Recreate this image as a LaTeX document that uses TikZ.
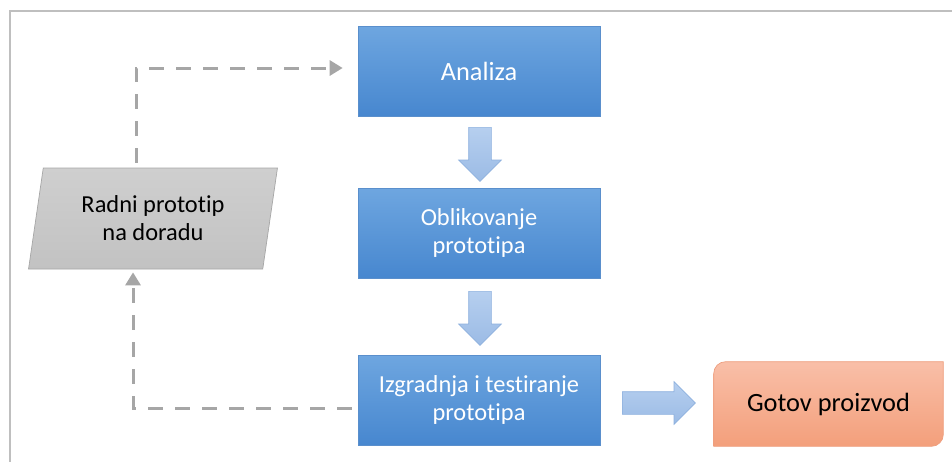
\documentclass[tikz,border=0pt]{standalone}
\usepackage{fontspec}
\setmainfont{Carlito}[Ligatures=NoCommon]
\usetikzlibrary{shapes.geometric,shapes.arrows,arrows.meta,backgrounds}

\definecolor{boxtop}{HTML}{6EA6E0}
\definecolor{boxbottom}{HTML}{4787CF}
\definecolor{boxline}{HTML}{5A8FCC}
\definecolor{arrowtop}{HTML}{B6CFEF}
\definecolor{arrowbottom}{HTML}{9BBBE5}
\definecolor{arrowline}{HTML}{8DB0DE}
\definecolor{reworktop}{HTML}{CFCFCF}
\definecolor{reworkbottom}{HTML}{C2C2C2}
\definecolor{loopgray}{HTML}{A6A6A6}
\definecolor{producttop}{HTML}{F9BFA8}
\definecolor{productbottom}{HTML}{F39F7B}
\definecolor{productline}{HTML}{EE9E7E}
\definecolor{framegray}{HTML}{BFBFBF}

\tikzset{
  phase/.style={rectangle, draw=boxline, top color=boxtop, bottom color=boxbottom,
    text=white, align=center, minimum width=4.84cm, minimum height=1.8cm,
    font=\fontsize{13.9}{15.9}\selectfont},
  rework/.style={trapezium, trapezium left angle=78, trapezium right angle=102,
    trapezium stretches=true, draw=loopgray, top color=reworktop, bottom color=reworkbottom,
    align=center, inner sep=0pt, minimum width=5cm, minimum height=2.02cm,
    font=\fontsize{13.9}{15.9}\selectfont},
  product/.style={rectangle, inner sep=0pt, minimum width=4.58cm, minimum height=1.68cm,
    font=\fontsize{15}{18}\selectfont},
  bigarrow/.style={single arrow, draw=arrowline, top color=arrowtop, bottom color=arrowbottom,
    inner sep=0.22cm, single arrow head extend=0.2cm, single arrow tip angle=90,
    minimum height=1.08cm},
  loopline/.style={draw=loopgray, line width=1.7pt, dash pattern=on 0.3cm off 0.24cm,
    -{Triangle[length=0.26cm,width=0.3cm]}},
}

\begin{document}
\begin{tikzpicture}[x=0.02cm, y=-0.02cm]
    \useasboundingbox (0,0) rectangle (952,461);

    % Draw frame
    \draw[framegray, line width=1.2pt] (10,480) -- (10,11) -- (970,11);

    % Draw phases
    \node[phase, font=\fontsize{15}{18}\selectfont] (analiza) at (479,71) {Analiza};
    \node[phase] (oblikovanje) at (479,233) {Oblikovanje\\prototipa};
    \node[phase] (izgradnja) at (479,400) {Izgradnja i testiranje\\prototipa};

    % Draw rework and finished product
    \node[rework] (dorada) at (153,218.5) {Radni prototip\\na doradu};
    \node[product] (gotov) at (828.5,404) {Gotov proizvod};
    \begin{scope}[on background layer]
        \shadedraw[draw=productline, top color=producttop, bottom color=productbottom]
            ([xshift=0.24cm]gotov.north west) -- (gotov.north east)
            -- ([yshift=0.24cm]gotov.south east) arc[start angle=0, end angle=-90, radius=0.24cm]
            -- (gotov.south west)
            -- ([yshift=-0.24cm]gotov.north west) arc[start angle=180, end angle=90, radius=0.24cm]
            -- cycle;
    \end{scope}

    % Draw block arrows
    \node[bigarrow, shape border rotate=270, anchor=tail] (step1) at (480,127) {};
    \node[bigarrow, shape border rotate=270, anchor=tail] (step2) at (480,291) {};
    \node[bigarrow, minimum height=1.46cm, anchor=tail] (step3) at (622,403) {};

    % Draw dashed loop
    \draw[loopline] ([xshift=-0.34cm,yshift=0.1cm]dorada.north) |- ([xshift=-0.3cm,yshift=0.06cm]analiza.west);
    \draw[loopline] ([xshift=-0.12cm,yshift=-0.16cm]izgradnja.west) -| ([xshift=-0.4cm,yshift=-0.06cm]dorada.south);
\end{tikzpicture}
\end{document}
